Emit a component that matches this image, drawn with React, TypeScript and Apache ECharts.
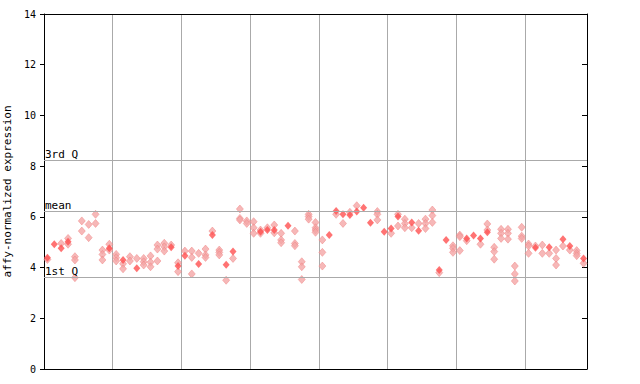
import React, { useEffect, useRef } from "react";
import * as echarts from "echarts";

// Expression values per sample column (0..78); "hollow" = checkered markers, "solid" = filled markers
const hollowValues: number[][] = [
  [4.32], [], [4.95], [5.15, 4.92], [4.43, 4.30, 3.60], [5.84, 5.44], [5.70, 5.18], [6.10, 5.74], [4.69, 4.52, 4.30], [4.92, 4.69],
  [4.52, 4.39, 4.26], [4.15, 3.95], [4.43, 4.26], [4.36], [4.36, 4.23, 4.10], [4.46, 4.21, 4.03], [4.89, 4.73, 4.26], [4.96, 4.82, 4.65], [4.89], [4.19, 3.84],
  [4.65], [4.65, 4.40, 3.75], [4.56], [4.73, 4.50, 4.40], [5.44], [4.69, 4.60, 4.50], [3.50], [4.36], [6.31, 5.94, 5.88], [5.84, 5.74],
  [5.81, 5.57, 5.35], [5.48, 5.35], [5.57], [5.68, 5.37], [5.35, 5.09, 4.98], [], [5.44, 4.95, 4.86], [4.23, 4.03, 3.53], [6.10, 6.01, 5.91], [5.78, 5.57, 5.48, 5.39],
  [5.09, 4.60, 4.06], [], [6.10], [5.74], [6.18], [6.44], [], [], [6.21, 6.10, 5.88], [],
  [5.35], [6.10, 5.64], [5.91, 5.74, 5.57], [5.57], [5.74], [5.91, 5.74, 5.54], [6.27, 6.05, 5.78], [3.80], [], [4.86, 4.76, 4.60],
  [5.28, 5.22, 4.67], [5.06], [], [4.92], [5.72, 5.48], [4.80, 4.63, 4.33], [5.51, 5.35, 5.15], [5.51, 5.35, 5.12], [4.06, 3.75, 3.47], [5.59, 5.24, 5.15],
  [4.93, 4.85, 4.56], [4.85], [4.89, 4.56], [4.56], [4.69, 4.36, 4.10], [4.85], [4.69], [4.67, 4.56, 4.47], [4.17],
];
const solidValues: number[][] = [
  [4.39], [4.92], [4.76], [5.02], [], [], [], [], [], [4.76],
  [], [4.30], [], [3.97], [], [], [], [], [4.80], [4.06],
  [4.47], [], [4.14], [], [5.28], [], [4.11], [4.63], [], [],
  [], [5.41], [5.48], [5.48], [], [5.65], [], [], [], [],
  [], [5.28], [6.23], [6.10], [6.07], [6.21], [6.36], [5.77], [], [5.41],
  [5.54], [6.01], [], [5.78], [5.45], [], [], [3.90], [5.09], [],
  [], [5.15], [5.26], [5.15], [5.39], [], [], [], [], [],
  [], [4.78], [], [4.80], [], [5.12], [4.85], [], [4.36],
];
const refLines = [
  { name: "3rd Q", value: 8.23 },
  { name: "mean", value: 6.23 },
  { name: "1st Q", value: 3.63 },
];
const sampleCount = 79;
const groupSize = 10;

const MONO = "DejaVu Sans Mono";

function toPoints(cols: number[][]) {
  const pts: number[][] = [];
  cols.forEach((vals, i) => vals.forEach((v) => pts.push([i + 0.5, v])));
  return pts;
}

export default function App() {
  const ref = useRef<HTMLDivElement>(null);
  useEffect(() => {
    document.body.style.margin = "0";
    if (!ref.current) return;
    const chart = echarts.init(ref.current, undefined, { renderer: "svg" });
    const red = "#ff5050";
    chart.setOption({
      animation: false,
      backgroundColor: "#ffffff",
      grid: {
        left: 44,
        top: 14,
        width: 543,
        height: 355,
        containLabel: false,
        outerBoundsMode: "none",
      } as any,
      xAxis: [
        {
          type: "value",
          min: 0,
          max: sampleCount,
          interval: groupSize,
          axisLabel: { show: false },
          axisTick: { show: false },
          axisLine: { show: true, onZero: false, lineStyle: { color: "#000", width: 1 } },
          splitLine: { show: true, lineStyle: { color: "#aaaaaa", width: 1 } },
        },
        {
          type: "value",
          position: "top",
          min: 0,
          max: sampleCount,
          interval: groupSize,
          axisLabel: { show: false },
          axisTick: { show: false },
          axisLine: { show: true, onZero: false, lineStyle: { color: "#000", width: 1 } },
          splitLine: { show: false },
        },
      ],
      yAxis: [
        {
          type: "value",
          min: 0,
          max: 14,
          interval: 2,
          name: "affy-normalized expression",
          nameLocation: "middle",
          nameGap: 25,
          nameTextStyle: { fontFamily: MONO, fontSize: 11, color: "#000" },
          axisLine: { show: true, onZero: false, lineStyle: { color: "#000", width: 1 } },
          axisTick: { show: true, length: 4, lineStyle: { color: "#000" } },
          axisLabel: { margin: 8, fontFamily: MONO, fontSize: 10, color: "#000" },
          splitLine: { show: false },
        },
        {
          type: "value",
          position: "right",
          min: 0,
          max: 14,
          interval: 2,
          axisLine: { show: true, onZero: false, lineStyle: { color: "#000", width: 1 } },
          axisTick: { show: true, inside: true, length: 5, lineStyle: { color: "#000" } },
          axisLabel: { show: false },
          splitLine: { show: false },
        },
      ],
      series: [
        {
          type: "scatter",
          name: "hollow",
          symbol: "diamond",
          symbolSize: [7, 8],
          itemStyle: { color: "#f4a6a6", borderColor: "#f08080", borderWidth: 0.6 },
          data: toPoints(hollowValues),
          z: 3,
          markLine: {
            silent: true,
            symbol: ["none", "none"],
            lineStyle: { color: "#aaaaaa", width: 1, type: "solid" },
            label: {
              show: true,
              position: "insideStartTop",
              formatter: "{b}",
              fontFamily: MONO,
              fontSize: 11,
              color: "#000",
              distance: [1, 0],
            },
            emphasis: { disabled: true },
            data: refLines.map((r) => ({ name: r.name, yAxis: r.value })),
          },
        },
        {
          type: "scatter",
          name: "solid",
          symbol: "diamond",
          symbolSize: [7, 8],
          itemStyle: { color: red },
          data: toPoints(solidValues),
          z: 4,
        },
      ],
    });
    return () => chart.dispose();
  }, []);
  return <div ref={ref} style={{ width: 640, height: 384 }} />;
}
